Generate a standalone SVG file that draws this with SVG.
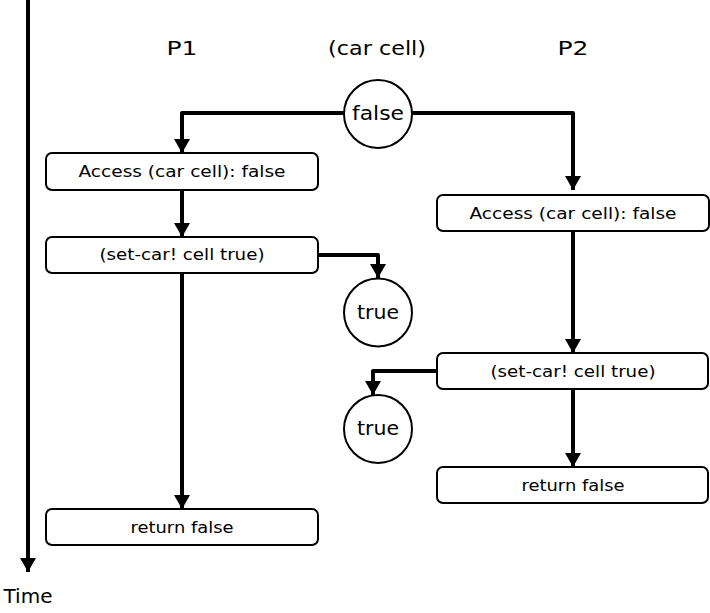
<svg xmlns="http://www.w3.org/2000/svg" width="710" height="613" viewBox="0 0 710 613">
<style>
.box{fill:#fff;stroke:#000;stroke-width:2}
.circ{fill:#fff;stroke:#000;stroke-width:2}
.t{font-family:"DejaVu Sans","Liberation Sans",sans-serif;font-size:16px;fill:#000;text-anchor:middle}
.big{font-family:"DejaVu Sans","Liberation Sans",sans-serif;font-size:20px;fill:#000;text-anchor:middle}
.c{fill:none;stroke:#000;stroke-width:4;stroke-linejoin:round}
</style>
<defs>
<marker id="ah" markerUnits="userSpaceOnUse" markerWidth="18" markerHeight="18" viewBox="0 0 18 18" refX="16" refY="9" orient="auto">
<path d="M2,1 L16,9 L2,17 Z" fill="#000"/>
</marker>
</defs>
<g id="labels">
<text class="big" x="182" y="55" textLength="31" lengthAdjust="spacingAndGlyphs">P1</text>
<text class="big" x="377" y="55" textLength="98" lengthAdjust="spacingAndGlyphs">(car cell)</text>
<text class="big" x="573" y="55" textLength="31" lengthAdjust="spacingAndGlyphs">P2</text>
<text class="big" x="28" y="603" textLength="49" lengthAdjust="spacingAndGlyphs">Time</text>
</g>
<g id="connectors">
<path class="c" d="M28,0 L28,572" marker-end="url(#ah)"/>
<path class="c" d="M344,113 L182,113 L182,153" marker-end="url(#ah)"/>
<path class="c" d="M412,113 L573,113 L573,190" marker-end="url(#ah)"/>
<path class="c" d="M182,190 L182,237" marker-end="url(#ah)"/>
<path class="c" d="M182,273 L182,509" marker-end="url(#ah)"/>
<path class="c" d="M318,255 L378,255 L378,278" marker-end="url(#ah)"/>
<path class="c" d="M573,231 L573,353" marker-end="url(#ah)"/>
<path class="c" d="M573,389 L573,467" marker-end="url(#ah)"/>
<path class="c" d="M437,371 L373,371 L373,395" marker-end="url(#ah)"/>
</g>
<g id="cell-false">
<circle class="circ" cx="378" cy="114" r="34"/>
<text class="big" x="378" y="120" textLength="52" lengthAdjust="spacingAndGlyphs">false</text>
</g>
<g id="p1-access">
<rect class="box" x="46" y="153" width="272" height="37" rx="6"/>
<text class="t" x="182" y="177" textLength="207" lengthAdjust="spacingAndGlyphs">Access (car cell): false</text>
</g>
<g id="p1-setcar">
<rect class="box" x="46" y="237" width="272" height="36" rx="6"/>
<text class="t" x="182" y="260" textLength="165" lengthAdjust="spacingAndGlyphs">(set-car! cell true)</text>
</g>
<g id="p1-return">
<rect class="box" x="46" y="509" width="272" height="36" rx="6"/>
<text class="t" x="182" y="533" textLength="103" lengthAdjust="spacingAndGlyphs">return false</text>
</g>
<g id="cell-true-1">
<circle class="circ" cx="378" cy="312.5" r="34"/>
<text class="big" x="378" y="319" textLength="42" lengthAdjust="spacingAndGlyphs">true</text>
</g>
<g id="p2-access">
<rect class="box" x="437" y="195" width="272" height="36" rx="6"/>
<text class="t" x="573" y="219" textLength="207" lengthAdjust="spacingAndGlyphs">Access (car cell): false</text>
</g>
<g id="p2-setcar">
<rect class="box" x="437" y="353" width="271" height="36" rx="6"/>
<text class="t" x="573" y="377" textLength="165" lengthAdjust="spacingAndGlyphs">(set-car! cell true)</text>
</g>
<g id="cell-true-2">
<circle class="circ" cx="378" cy="429" r="34"/>
<text class="big" x="378" y="435" textLength="42" lengthAdjust="spacingAndGlyphs">true</text>
</g>
<g id="p2-return">
<rect class="box" x="437" y="467" width="271" height="36" rx="6"/>
<text class="t" x="573" y="491" textLength="103" lengthAdjust="spacingAndGlyphs">return false</text>
</g>
</svg>
